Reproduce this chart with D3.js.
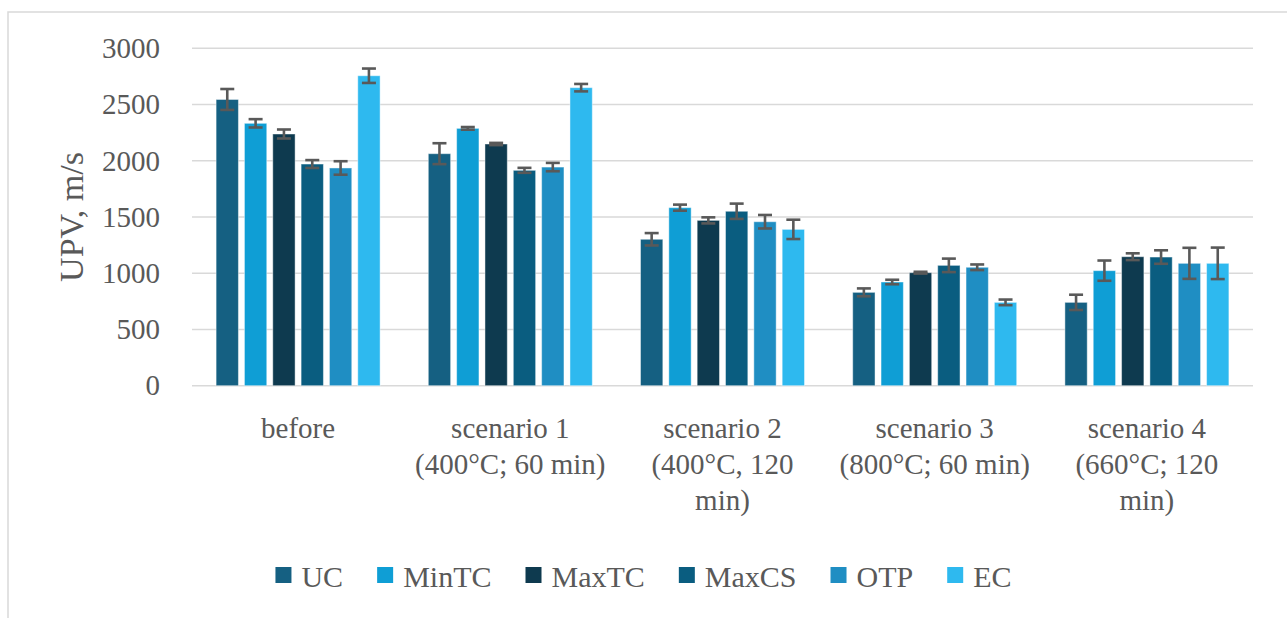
<!DOCTYPE html>
<html>
<head>
<meta charset="utf-8">
<script src="https://cdn.jsdelivr.net/npm/d3@7"></script>
<style>
  html, body { margin: 0; padding: 0; background: #ffffff; }
  svg { display: block; }
  text { font-family: "Liberation Serif", "Times New Roman", serif; fill: #595959; }
</style>
</head>
<body>
<svg id="chart" width="1287" height="618"></svg>
<script>
// Ultrasonic pulse velocity per test scenario
const categoryLines = [
  ["before"],
  ["scenario 1", "(400°C; 60 min)"],
  ["scenario 2", "(400°C, 120", "min)"],
  ["scenario 3", "(800°C; 60 min)"],
  ["scenario 4", "(660°C; 120", "min)"]
];
const categories = categoryLines.map(l => l.join(" "));
const seriesNames = ["UC", "MinTC", "MaxTC", "MaxCS", "OTP", "EC"];
const seriesColors = ["#156082", "#0F9ED5", "#0E3A4F", "#0A5D80", "#1F8EC3", "#2EB9EF"];

// mean values per series, one entry per category
const UC    = [2545, 2063, 1302, 830, 741];
const MinTC = [2333, 2288, 1583, 922, 1023];
const MaxTC = [2238, 2149, 1470, 1005, 1147];
const MaxCS = [1971, 1915, 1551, 1070, 1144];
const OTP   = [1936, 1944, 1458, 1053, 1088];
const EC    = [2756, 2650, 1390, 741, 1088];

// standard deviations (error bars)
const UC_err    = [93, 93, 55, 35, 68];
const MinTC_err = [37, 12, 27, 20, 90];
const MaxTC_err = [40, 10, 27, 8, 30];
const MaxCS_err = [35, 22, 68, 60, 60];
const OTP_err   = [60, 37, 60, 25, 138];
const EC_err    = [64, 33, 86, 25, 140];

const yTicks = [0, 500, 1000, 1500, 2000, 2500, 3000];
const yTitle = "UPV, m/s";

const values = [UC, MinTC, MaxTC, MaxCS, OTP, EC];
const errors = [UC_err, MinTC_err, MaxTC_err, MaxCS_err, OTP_err, EC_err];

const svg = d3.select("#chart");

// chart frame
svg.append("rect")
  .attr("x", 8).attr("y", 12)
  .attr("width", 1300).attr("height", 640)
  .attr("fill", "none").attr("stroke", "#d9d9d9").attr("stroke-width", 1.5);

const plot = { left: 192, right: 1253, top: 48.3, bottom: 385.7 };

const x = d3.scaleBand().domain(categories).range([plot.left, plot.right]).padding(0);
const groupW = 164;
const xs = d3.scaleBand().domain(seriesNames)
  .range([(x.bandwidth() - groupW) / 2, (x.bandwidth() + groupW) / 2])
  .paddingInner(0.212).paddingOuter(0);
const y = d3.scaleLinear().domain([0, 3000]).range([plot.bottom, plot.top]);

// gridlines
svg.append("g").selectAll("line").data(yTicks).join("line")
  .attr("x1", plot.left).attr("x2", plot.right)
  .attr("y1", d => y(d)).attr("y2", d => y(d))
  .attr("stroke", "#d9d9d9").attr("stroke-width", 1.6);

// y axis labels
const yAxis = d3.axisLeft(y).tickValues(yTicks).tickSize(0).tickPadding(0).tickFormat(d3.format("d"));
const yg = svg.append("g").attr("transform", `translate(${plot.left - 32},0)`).call(yAxis);
yg.select(".domain").remove();
yg.selectAll("text")
  .attr("font-size", 29)
  .attr("fill", "#595959")
  .style("font-family", "'Liberation Serif', serif");

// y axis title
svg.append("text")
  .attr("transform", `translate(83,${(plot.top + plot.bottom) / 2}) rotate(-90)`)
  .attr("text-anchor", "middle")
  .attr("font-size", 34)
  .text(yTitle);

// bars
const rows = [];
seriesNames.forEach((s, si) => {
  categories.forEach((c, ci) => {
    rows.push({ s, c, si, v: values[si][ci], e: errors[si][ci] });
  });
});

svg.append("g").selectAll("rect").data(rows).join("rect")
  .attr("x", d => x(d.c) + xs(d.s))
  .attr("y", d => y(d.v))
  .attr("width", xs.bandwidth())
  .attr("height", d => y(0) - y(d.v))
  .attr("fill", d => seriesColors[d.si])
  .attr("stroke", "rgba(255,255,255,0.45)")
  .attr("stroke-width", 1);

// error bars
const eg = svg.append("g").attr("stroke", "#595959").attr("stroke-width", 2.6);
rows.forEach(d => {
  const cx = x(d.c) + xs(d.s) + xs.bandwidth() / 2;
  const y1 = y(d.v + d.e), y2 = y(d.v - d.e);
  eg.append("line").attr("x1", cx).attr("x2", cx).attr("y1", y1).attr("y2", y2);
  eg.append("line").attr("x1", cx - 7).attr("x2", cx + 7).attr("y1", y1).attr("y2", y1);
  eg.append("line").attr("x1", cx - 7).attr("x2", cx + 7).attr("y1", y2).attr("y2", y2);
});

// category labels
const cl = svg.append("g");
categoryLines.forEach((lines, i) => {
  const t = cl.append("text")
    .attr("x", x(categories[i]) + x.bandwidth() / 2)
    .attr("y", 438)
    .attr("text-anchor", "middle")
    .attr("font-size", 29);
  lines.forEach((ln, j) => {
    t.append("tspan").attr("x", x(categories[i]) + x.bandwidth() / 2)
      .attr("y", 438 + j * 36).text(ln);
  });
});

// legend
const lg = svg.append("g");
const sq = 16, gapSq = 10, gapItem = 34;
let cursor = 0;
const items = seriesNames.map((s, i) => {
  const g = lg.append("g");
  g.append("rect").attr("x", 0).attr("y", -sq / 2 - 1).attr("width", sq).attr("height", sq)
    .attr("fill", seriesColors[i]);
  const t = g.append("text").attr("x", sq + gapSq).attr("y", 0).attr("dy", "0.35em")
    .attr("font-size", 30).text(s);
  const w = sq + gapSq + t.node().getComputedTextLength();
  g.attr("transform", `translate(${cursor},0)`);
  cursor += w + gapItem;
  return g;
});
const totalW = cursor - gapItem;
lg.attr("transform", `translate(${643.5 - totalW / 2},576)`);
</script>
</body>
</html>
